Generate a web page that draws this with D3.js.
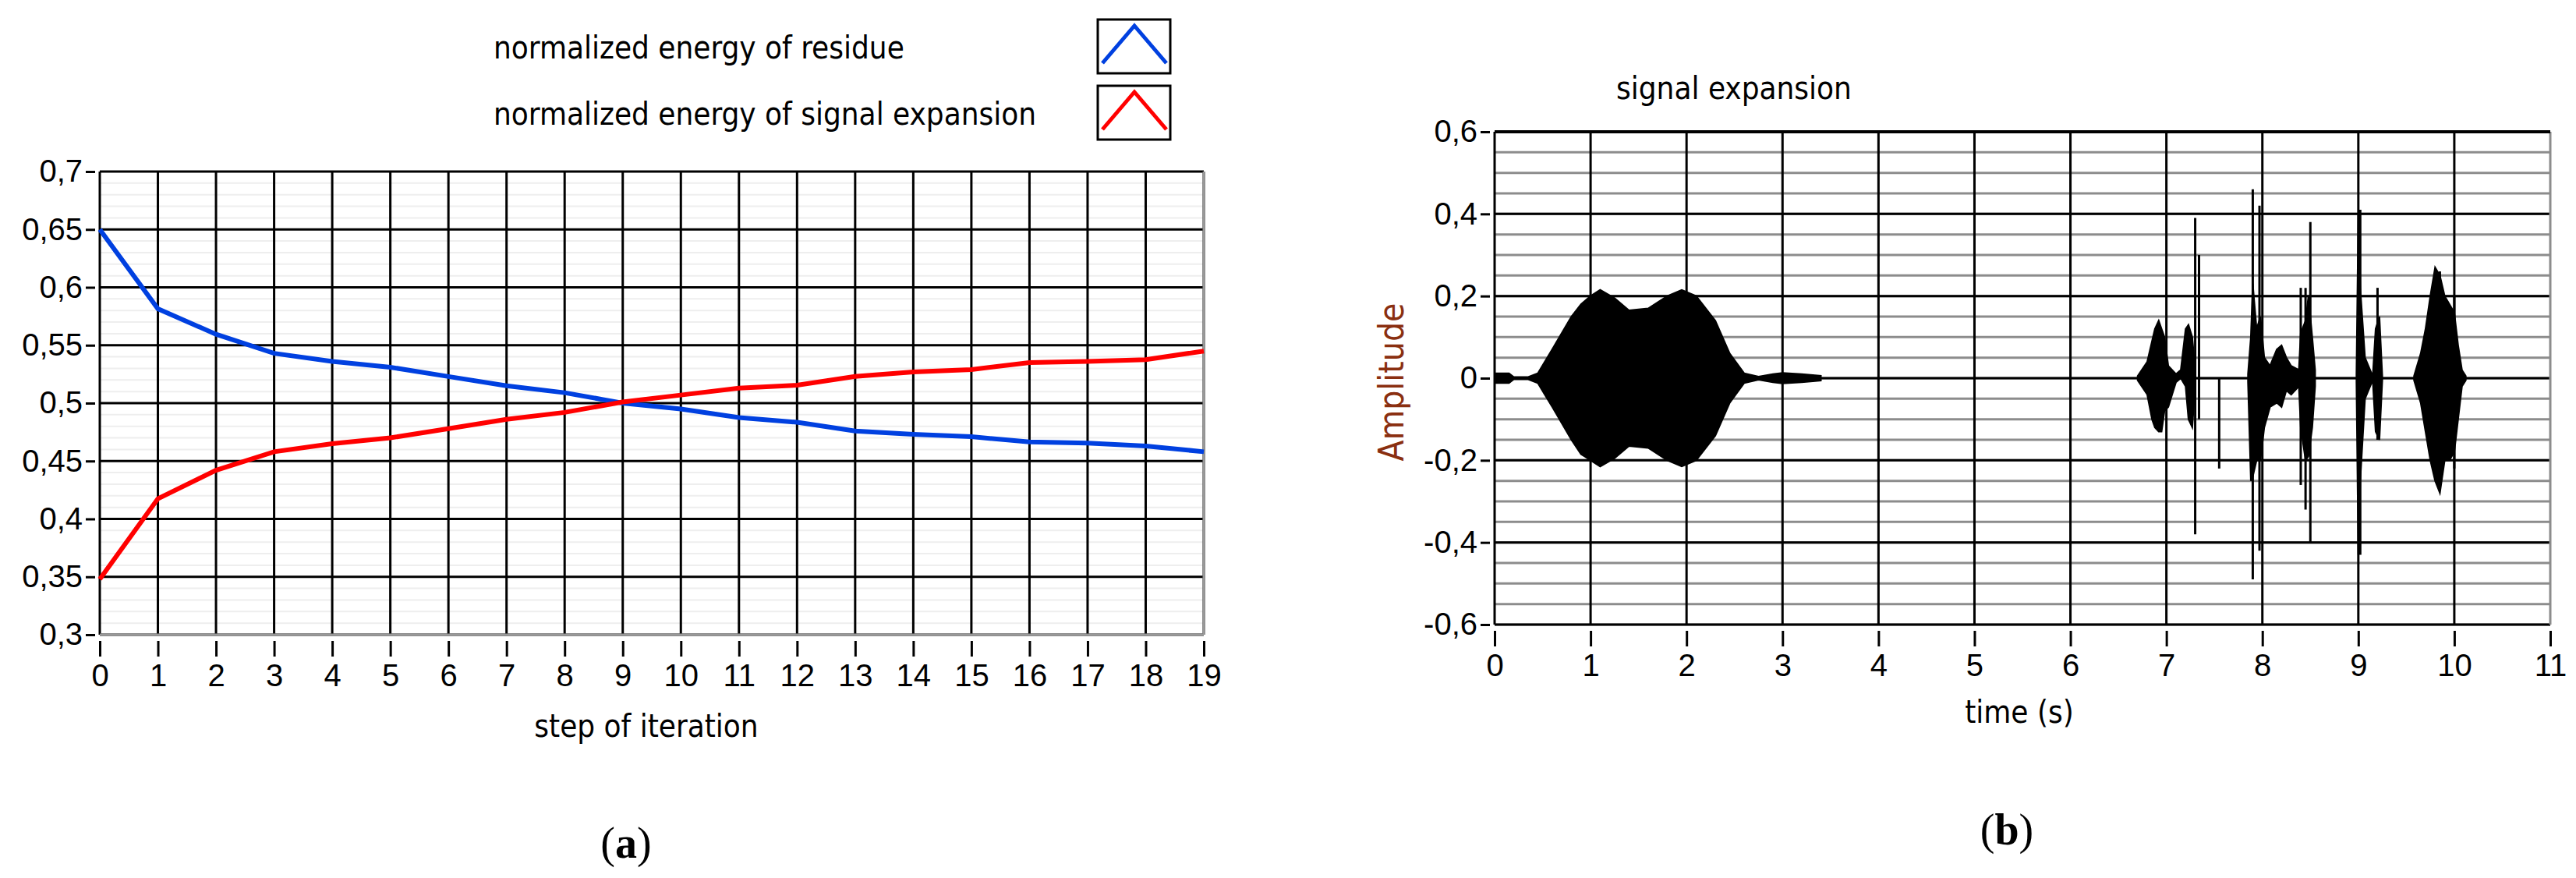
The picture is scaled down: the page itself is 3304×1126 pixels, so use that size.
<!DOCTYPE html>
<html><head><meta charset="utf-8">
<script src="https://cdn.jsdelivr.net/npm/d3@7"></script>
<style>body{margin:0;background:#fff}</style>
</head><body>
<svg id="c" width="3304" height="1126" font-family="DejaVu Sans Condensed, DejaVu Sans, sans-serif"></svg>
<script>
// ---- data (a)
const steps = d3.range(0, 20);
const residue = [0.650,0.5815,0.5595,0.543,0.536,0.531,0.523,0.515,0.509,0.500,0.495,0.4875,0.4835,0.476,0.473,0.471,0.4665,0.4655,0.463,0.458];
const expansion = [0.348,0.4175,0.442,0.458,0.465,0.470,0.478,0.486,0.492,0.501,0.507,0.513,0.5155,0.523,0.527,0.529,0.535,0.536,0.5375,0.545];
const yTicksA = [0.3,0.35,0.4,0.45,0.5,0.55,0.6,0.65,0.7];
const legendA = ["normalized energy of residue","normalized energy of signal expansion"];
// ---- data (b): envelope segments [t, upper, lower]
const envSegments = [
 [[0,0.012,-0.012],[0.15,0.012,-0.012],[0.2,0.003,-0.003],[0.35,0.003,-0.003],[0.45,0.012,-0.012],[0.6,0.07,-0.07],[0.8,0.15,-0.15],[0.9,0.18,-0.185],[1.0,0.2,-0.2],[1.1,0.215,-0.215],[1.25,0.195,-0.195],[1.4,0.165,-0.165],[1.6,0.17,-0.17],[1.8,0.2,-0.2],[1.95,0.215,-0.215],[2.1,0.2,-0.2],[2.3,0.14,-0.14],[2.45,0.06,-0.06],[2.6,0.012,-0.012],[2.75,0.004,-0.004],[2.9,0.01,-0.01],[3.0,0.013,-0.013],[3.2,0.01,-0.01],[3.4,0.006,-0.006]],
 [[6.7,0.005,-0.005],[6.8,0.04,-0.04],[6.85,0.09,-0.1],[6.88,0.12,-0.12],[6.92,0.14,-0.13],[6.95,0.12,-0.13],[6.98,0.1,-0.08],[7.02,0.03,-0.07],[7.1,0.01,-0.01],[7.15,0.02,0],[7.2,0.12,-0.02],[7.23,0.13,-0.1],[7.27,0.1,-0.12],[7.3,0.02,-0.02]],
 [[7.85,0.01,-0.01],[7.88,0.1,-0.25],[7.9,0.23,-0.24],[7.94,0.12,-0.2],[7.98,0.15,-0.2],[8.02,0.05,-0.12],[8.08,0.03,-0.07],[8.15,0.07,-0.06],[8.2,0.08,-0.07],[8.25,0.05,-0.03],[8.3,0.03,-0.04],[8.38,0.02,-0.02],[8.4,0.11,-0.12],[8.45,0.14,-0.2],[8.48,0.2,-0.19],[8.52,0.1,-0.12],[8.55,0.02,-0.02]],
 [[8.98,0.01,-0.01],[9.0,0.4,-0.43],[9.02,0.22,-0.25],[9.07,0.05,-0.05],[9.15,0.005,-0.005],[9.18,0.12,-0.13],[9.22,0.15,-0.15],[9.25,0.005,-0.005]],
 [[9.58,0.005,-0.005],[9.65,0.06,-0.06],[9.7,0.12,-0.13],[9.75,0.2,-0.2],[9.8,0.27,-0.25],[9.85,0.25,-0.28],[9.9,0.2,-0.2],[9.95,0.18,-0.2],[10.0,0.16,-0.18],[10.04,0.08,-0.1],[10.08,0.02,-0.02],[10.12,0.005,-0.005]]
];
const spikes = [[7.3,0.39,-0.38],[7.34,0.3,-0.1],[7.55,0.0,-0.22],[7.9,0.46,-0.49],[7.97,0.42,-0.42],[8.4,0.22,-0.26],[8.45,0.22,-0.32],[8.5,0.38,-0.4],[9.02,0.41,-0.43],[9.2,0.22,-0.15],[9.85,0.26,-0.22],[10.0,0.2,-0.22]];
const yTicksB = [-0.6,-0.4,-0.2,0,0.2,0.4,0.6];
const xTicksB = d3.range(0, 12);

const svg = d3.select("#c");
const fmt = v => String(+v.toFixed(2)).replace(".", ",");
const FS = 40;
const styleAxis = g=>{g.select(".domain").remove();g.selectAll("line").attr("stroke-width",3);g.selectAll("text").attr("font-size",FS).attr("font-family",null);};

// ===== (a)
const xa = d3.scaleLinear().domain([0,19]).range([128,1544]);
const ya = d3.scaleLinear().domain([0.3,0.7]).range([814,220]);
const ga = svg.append("g");
d3.range(0.3,0.7001,0.01).forEach(v=>ga.append("line").attr("x1",xa(0)).attr("x2",xa(19)).attr("y1",ya(v)).attr("y2",ya(v)).attr("stroke","#eeeeee").attr("stroke-width",2));
yTicksA.forEach(v=>ga.append("line").attr("x1",xa(0)).attr("x2",xa(19)).attr("y1",ya(v)).attr("y2",ya(v)).attr("stroke","#000").attr("stroke-width",3));
steps.forEach(s=>ga.append("line").attr("x1",xa(s)).attr("x2",xa(s)).attr("y1",ya(0.7)).attr("y2",ya(0.3)).attr("stroke","#000").attr("stroke-width",3));
ga.append("line").attr("x1",xa(19)).attr("x2",xa(19)).attr("y1",ya(0.7)).attr("y2",ya(0.3)).attr("stroke","#999").attr("stroke-width",3);
ga.append("line").attr("x1",xa(0)).attr("x2",xa(19)).attr("y1",ya(0.3)).attr("y2",ya(0.3)).attr("stroke","#999").attr("stroke-width",3);
const lineA = d3.line().x((d,i)=>xa(i)).y(d=>ya(d));
ga.append("path").attr("d",lineA(residue)).attr("fill","none").attr("stroke","#0040e0").attr("stroke-width",6);
ga.append("path").attr("d",lineA(expansion)).attr("fill","none").attr("stroke","#ff0000").attr("stroke-width",6);
ga.append("g").attr("transform",`translate(${xa(0)-6},0)`).call(d3.axisLeft(ya).tickValues(yTicksA).tickFormat(fmt).tickSize(12).tickPadding(4)).call(styleAxis);
ga.append("g").attr("transform",`translate(0,${ya(0.3)+8})`).call(d3.axisBottom(xa).tickValues(steps).tickFormat(d=>d).tickSize(20).tickPadding(10)).call(styleAxis);
ga.append("text").attr("x",829).attr("y",945).attr("text-anchor","middle").attr("font-size",FS).text("step of iteration");
legendA.forEach((t,i)=>{
  const y0 = [25,110][i];
  ga.append("text").attr("x",633).attr("y",y0+50).attr("font-size",FS).text(t);
  ga.append("rect").attr("x",1408).attr("y",y0).attr("width",93).attr("height",69).attr("fill","#fff").attr("stroke","#000").attr("stroke-width",3);
  ga.append("path").attr("d",`M1414,${y0+56}L1455,${y0+8}L1496,${y0+56}`).attr("fill","none").attr("stroke",i?"#ff0000":"#0040e0").attr("stroke-width",5);
});
svg.append("text").attr("x",803).attr("y",1100).attr("text-anchor","middle").attr("font-size",56).attr("font-family","Liberation Serif, serif").html('(<tspan font-weight="bold">a</tspan>)');

// ===== (b)
const xb = d3.scaleLinear().domain([0,11]).range([1917,3271]);
const yb = d3.scaleLinear().domain([-0.6,0.6]).range([801,169]);
const gb = svg.append("g");
d3.range(-0.6,0.6001,0.05).forEach(v=>gb.append("line").attr("x1",xb(0)).attr("x2",xb(11)).attr("y1",yb(v)).attr("y2",yb(v)).attr("stroke","#8c8c8c").attr("stroke-width",3));
yTicksB.forEach(v=>gb.append("line").attr("x1",xb(0)).attr("x2",xb(11)).attr("y1",yb(v)).attr("y2",yb(v)).attr("stroke","#000").attr("stroke-width",3));
xTicksB.slice(0,11).forEach(s=>gb.append("line").attr("x1",xb(s)).attr("x2",xb(s)).attr("y1",yb(0.6)).attr("y2",yb(-0.6)).attr("stroke","#000").attr("stroke-width",3));
gb.append("line").attr("x1",xb(11)).attr("x2",xb(11)).attr("y1",yb(0.6)).attr("y2",yb(-0.6)).attr("stroke","#8c8c8c").attr("stroke-width",3);
gb.append("line").attr("x1",xb(0)).attr("x2",xb(11)).attr("y1",yb(0.6)).attr("y2",yb(0.6)).attr("stroke","#000").attr("stroke-width",4);
const area = d3.area().x(d=>xb(d[0])).y0(d=>yb(d[2])).y1(d=>yb(d[1]));
envSegments.forEach(seg=>gb.append("path").attr("d",area(seg)).attr("fill","#000").attr("stroke","#000").attr("stroke-width",2));
spikes.forEach(s=>gb.append("line").attr("x1",xb(s[0])).attr("x2",xb(s[0])).attr("y1",yb(s[1])).attr("y2",yb(s[2])).attr("stroke","#000").attr("stroke-width",3));
gb.append("g").attr("transform",`translate(${xb(0)-6},0)`).call(d3.axisLeft(yb).tickValues(yTicksB).tickFormat(fmt).tickSize(12).tickPadding(4)).call(styleAxis);
gb.append("g").attr("transform",`translate(0,${yb(-0.6)+8})`).call(d3.axisBottom(xb).tickValues(xTicksB).tickFormat(d=>d).tickSize(20).tickPadding(10)).call(styleAxis);
gb.append("text").attr("x",2073).attr("y",127).attr("font-size",FS).text("signal expansion");
gb.append("text").attr("transform","translate(1800,490) rotate(-90)").attr("text-anchor","middle").attr("font-size",44).attr("fill","#8a2f10").text("Amplitude");
gb.append("text").attr("x",2590).attr("y",927).attr("text-anchor","middle").attr("font-size",FS).text("time (s)");
svg.append("text").attr("x",2574).attr("y",1083).attr("text-anchor","middle").attr("font-size",56).attr("font-family","Liberation Serif, serif").html('(<tspan font-weight="bold">b</tspan>)');
</script></body></html>
